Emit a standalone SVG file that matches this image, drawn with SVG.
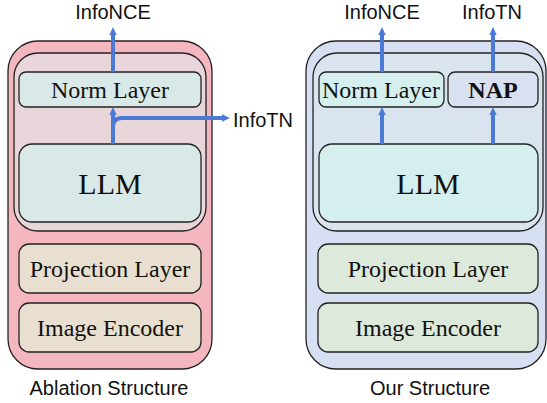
<svg xmlns="http://www.w3.org/2000/svg" width="547" height="403" viewBox="0 0 547 403">
<defs>
<style>
.b{stroke:#222;stroke-width:1.3}
.s{font-family:"Liberation Serif","Times New Roman",serif;fill:#111;text-anchor:middle}
.t{font-family:"Liberation Sans",Arial,sans-serif;font-size:20px;fill:#111;text-anchor:middle}
.a{fill:none;stroke:#4a7ad6;stroke-width:4}
</style>
<marker id="ah" viewBox="0 0 8 8" refX="1" refY="4" markerWidth="8" markerHeight="8" markerUnits="userSpaceOnUse" orient="auto">
<path d="M0,0.3 L8,4 L0,7.7 z" fill="#4a7ad6"/>
</marker>
</defs>
<rect width="547" height="403" fill="#fff"/>

<g id="ablation">
<rect class="b" x="8" y="41" width="204" height="328" rx="30" fill="#f4b6bf"/>
<rect class="b" x="14" y="53" width="192" height="178" rx="24" fill="#e8d6da"/>
</g>
<g id="a-norm"><rect class="b" x="19" y="72" width="182" height="35" rx="7" fill="#d9e9e8"/><text class="s" x="110" y="98" font-size="24">Norm Layer</text></g>
<g id="a-llm"><rect class="b" x="19" y="144" width="182" height="78" rx="13" fill="#d9e9e8"/><text class="s" x="110" y="194" font-size="30">LLM</text></g>
<g id="a-proj"><rect class="b" x="19" y="244" width="182" height="49" rx="10" fill="#e8dfd0"/><text class="s" x="110" y="277" font-size="24">Projection Layer</text></g>
<g id="a-enc"><rect class="b" x="19" y="303" width="182" height="49" rx="10" fill="#e8dfd0"/><text class="s" x="110" y="336" font-size="24">Image Encoder</text></g>
<g id="a-infonce"><text class="t" x="113" y="19">InfoNCE</text></g>
<g id="a-infotn"><text class="t" x="263" y="127">InfoTN</text></g>
<g id="a-caption"><text class="t" x="109" y="395">Ablation Structure</text></g>

<g id="ours">
<rect class="b" x="306" y="41" width="240" height="328" rx="30" fill="#d7dff2"/>
<rect class="b" x="313" y="53" width="230" height="178" rx="24" fill="#dae4ef"/>
</g>
<g id="o-norm"><rect class="b" x="319" y="72" width="125" height="35" rx="7" fill="#d5eeee"/><text class="s" x="381" y="98" font-size="24">Norm Layer</text></g>
<g id="o-nap"><rect class="b" x="448" y="72" width="90" height="35" rx="7" fill="#d9e0f0"/><text class="s" x="493" y="98" font-size="24" font-weight="bold">NAP</text></g>
<g id="o-llm"><rect class="b" x="319" y="144" width="219" height="78" rx="13" fill="#d5eeee"/><text class="s" x="428" y="194" font-size="30">LLM</text></g>
<g id="o-proj"><rect class="b" x="318" y="244" width="220" height="49" rx="10" fill="#dce9db"/><text class="s" x="428" y="277" font-size="24">Projection Layer</text></g>
<g id="o-enc"><rect class="b" x="318" y="303" width="220" height="49" rx="10" fill="#dce9db"/><text class="s" x="428" y="336" font-size="24">Image Encoder</text></g>
<g id="o-infonce"><text class="t" x="382" y="19">InfoNCE</text></g>
<g id="o-infotn"><text class="t" x="492" y="19">InfoTN</text></g>
<g id="o-caption"><text class="t" x="430" y="395">Our Structure</text></g>

<g id="connectors">
<path class="a" d="M113,72 V34" marker-end="url(#ah)"/>
<path class="a" d="M113,144 V114" marker-end="url(#ah)"/>
<path class="a" d="M113,136 V127 Q113,118 122,118 H223" marker-end="url(#ah)"/>
<path class="a" d="M382,72 V34" marker-end="url(#ah)"/>
<path class="a" d="M493,72 V34" marker-end="url(#ah)"/>
<path class="a" d="M382,144 V114" marker-end="url(#ah)"/>
<path class="a" d="M493,144 V114" marker-end="url(#ah)"/>
</g>
</svg>
